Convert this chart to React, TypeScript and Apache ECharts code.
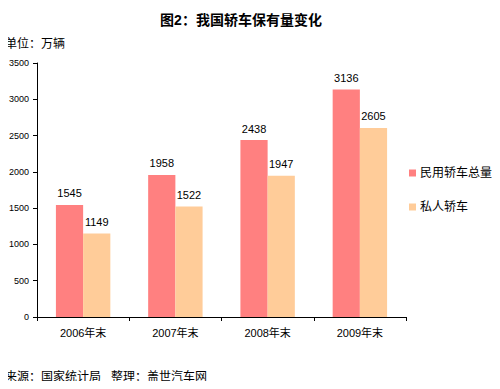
import React, { useEffect, useRef } from "react";
import * as echarts from "echarts";

const categories = ["2006年末", "2007年末", "2008年末", "2009年末"];
const totalCars = [1545, 1958, 2438, 3136];
const privateCars = [1149, 1522, 1947, 2605];
const seriesNames = ["民用轿车总量", "私人轿车"];

export default function App() {
  const ref = useRef<HTMLDivElement>(null);
  useEffect(() => {
    const chart = echarts.init(ref.current!, null, { renderer: "svg" });
    const font = "Arial, 'Liberation Sans', 'Noto Sans CJK SC', sans-serif";
    chart.setOption({
      animation: false,
      backgroundColor: "#ffffff",
      textStyle: { fontFamily: font },
      title: {
        text: "图2：我国轿车保有量变化",
        left: 236,
        textAlign: "center",
        top: 8,
        textStyle: { fontSize: 14, fontWeight: "bold", color: "#000", fontFamily: font },
      },
      graphic: [
        { type: "text", left: 5, top: 38, style: { text: "单位：万辆", fontSize: 12, fill: "#000", fontFamily: font } },
        { type: "text", left: 5, top: 371, style: { text: "来源：国家统计局   整理：盖世汽车网", fontSize: 12, fill: "#000", fontFamily: font } },
      ],
      legend: {
        orient: "vertical",
        left: 409,
        top: 167,
        padding: 0,
        itemWidth: 7,
        itemHeight: 7,
        itemGap: 22,
        icon: "rect",
        textStyle: { fontSize: 12, color: "#000", fontFamily: font, padding: [0, 0, 0, -1] },
        data: seriesNames,
      },
      grid: { left: 37, top: 63, width: 369, height: 254 },
      xAxis: {
        type: "category",
        data: categories,
        axisLine: { lineStyle: { color: "#000", width: 1 } },
        axisTick: { show: true, length: 4, lineStyle: { color: "#000" } },
        axisLabel: { color: "#000", fontSize: 11, margin: 10 },
      },
      yAxis: {
        type: "value",
        min: 0,
        max: 3500,
        interval: 500,
        axisLine: { show: true, lineStyle: { color: "#000", width: 1 } },
        axisTick: { show: true, length: 4, lineStyle: { color: "#000" } },
        axisLabel: { color: "#000", fontSize: 9, margin: 8, formatter: (v: number) => String(v) },
        splitLine: { show: false },
      },
      series: [
        {
          name: seriesNames[0],
          type: "bar",
          data: totalCars,
          itemStyle: { color: "#FF8080" },
          barGap: "0%",
          barCategoryGap: "41%",
          label: { show: true, position: "top", color: "#000", fontSize: 11, distance: 6 },
        },
        {
          name: seriesNames[1],
          type: "bar",
          data: privateCars,
          itemStyle: { color: "#FFCC99" },
          label: { show: true, position: "top", color: "#000", fontSize: 11, distance: 6 },
        },
      ],
    });
    return () => chart.dispose();
  }, []);
  return <div ref={ref} style={{ width: 500, height: 389, margin: -8 }} />;
}
